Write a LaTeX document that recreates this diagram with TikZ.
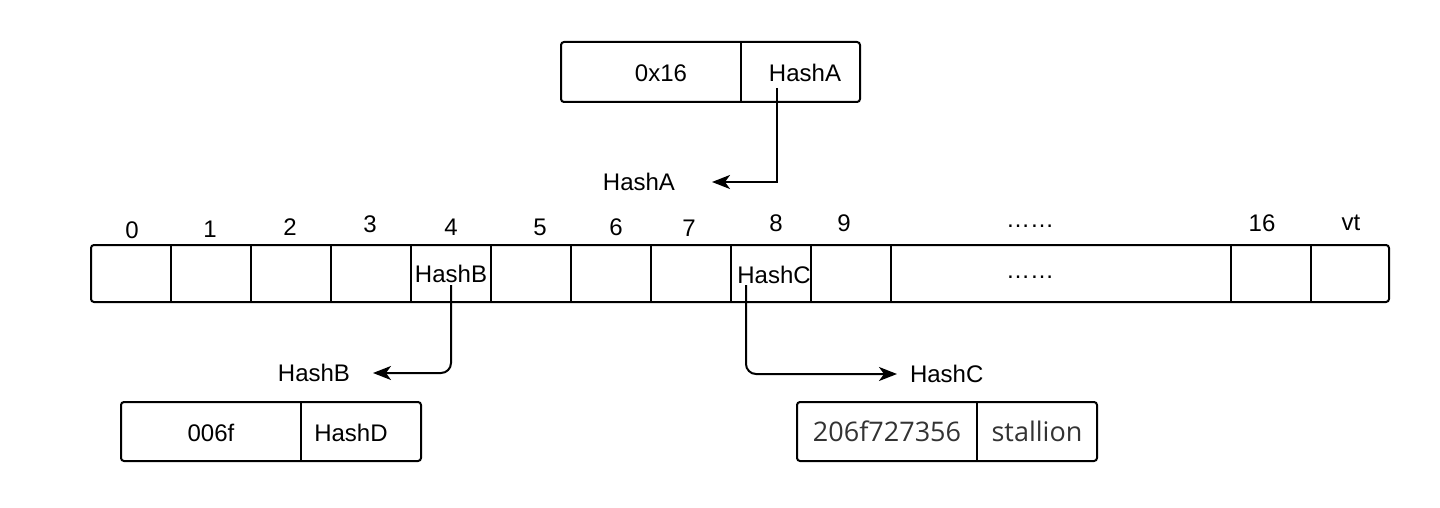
\documentclass[tikz,border=0pt]{standalone}
\usepackage{fontspec}
\setmainfont{Liberation Sans}
\newfontfamily\opensans{Open Sans}
\usetikzlibrary{arrows.meta,positioning}
\definecolor{txtgray}{HTML}{333333}

\begin{document}
\begin{tikzpicture}[x=0.5pt,y=-0.5pt,line width=1pt,
  every node/.style={font=\fontsize{12}{14}\selectfont,inner sep=0pt},
  box/.style={rounded corners=1.5pt},
  ptr/.style={-{Stealth[length=9pt,width=7pt,inset=2.5pt]}},
  grayfont/.style={font=\opensans\fontsize{13.5}{16}\selectfont,text=txtgray}]

\useasboundingbox (0,0) rectangle (1440,508);

% Nodo superior
\draw[box] (561,42) rectangle (860,102);
\draw (741,42) -- (741,102);
\node (rootkey) at (661,73) {0x16};
\node (roothash) at (805,73) {HashA};

% Puntero HashA
\coordinate (pa) at (777,88);
\coordinate (tipa) at (712,182);
\node[left=18pt of tipa] (hasha) {HashA};
\draw[ptr] (pa) |- (tipa);

% Tabla de ramas
\draw[box] (91,245) rectangle (1389,302);
\foreach \x in {171,251,...,891,1231,1311}
  \draw (\x,245) -- (\x,302);

% Indices
\foreach \i/\x/\y in {0/132/230,1/210/229,2/290/227,3/370/224,4/451/227,
  5/540/227,6/616/227,7/689/228,8/776/223,9/844/223,16/1262/223}
  \node (idx\i) at (\x,\y) {\i};
\node (idxdots) at (1030,226) {……};
\node (idxvt) at (1351,223) {vt};

% Contenido de la tabla
\node (cellb) at (451,274) {HashB};
\node (cellc) at (774,275) {HashC};
\node (celldots) at (1030,277) {……};

% Puntero HashB
\coordinate (pb) at (451,285);
\coordinate (tipb) at (373,373);
\node[left=11pt of tipb] (hashb) {HashB};
\draw[ptr,rounded corners=5pt] (pb) |- (tipb);

% Puntero HashC
\coordinate (pc) at (746,285);
\coordinate (tipc) at (897,374);
\node[right=6pt of tipc] (hashc) {HashC};
\draw[ptr,rounded corners=5pt] (pc) |- (tipc);

% Nodo extension
\draw[box] (121,402) rectangle (421,461);
\draw (301,402) -- (301,461);
\node (extkey) at (211,433) {006f};
\node (exthash) at (351,433) {HashD};

% Nodo hoja
\draw[box] (797,402) rectangle (1097,461);
\draw (977,402) -- (977,461);
\node[grayfont] (leafkey) at (887,431) {206f727356};
\node[grayfont] (leafval) at (1037,431) {stallion};

\end{tikzpicture}
\end{document}
